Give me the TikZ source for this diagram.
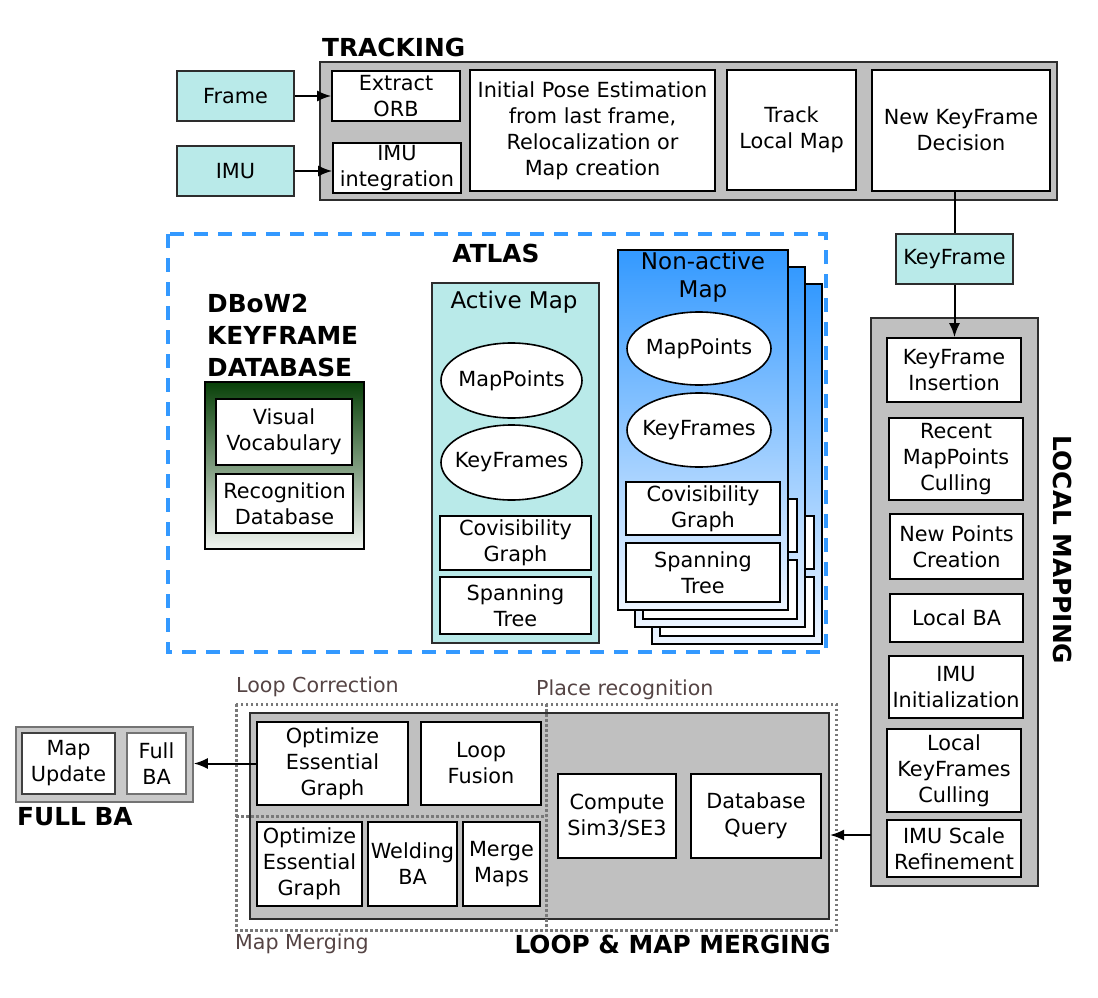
\documentclass[tikz,border=0pt]{standalone}
\usepackage{fontspec}
\setmainfont{DejaVu Sans}
\usetikzlibrary{calc}
\usetikzlibrary{shapes,arrows,arrows.meta}

\definecolor{kfcyan}{RGB}{185,234,233}
\definecolor{boxgray}{RGB}{192,192,192}
\definecolor{edgegray}{RGB}{45,45,45}
\definecolor{atlasblue}{RGB}{51,153,255}
\definecolor{dotgray}{RGB}{120,120,120}
\definecolor{labelbrown}{RGB}{85,68,68}
\definecolor{dbgreen}{RGB}{8,64,8}
\definecolor{dbpale}{RGB}{242,246,242}
\definecolor{natop}{RGB}{51,153,255}
\definecolor{namid}{RGB}{150,200,255}
\definecolor{nabot}{RGB}{238,245,255}

\begin{document}
\begin{tikzpicture}[x=1pt,y=1pt,
    txt/.style={font=\fontsize{20.8}{26}\selectfont},
    wh/.style 2 args={minimum width=#1pt,minimum height=#2pt},
    box/.style={txt,draw=black,fill=white,line width=1.6pt,align=center,inner sep=1pt},
    inbox/.style={box,fill=kfcyan,draw=edgegray},
    panel/.style={draw=edgegray,fill=boxgray,line width=2pt,inner sep=0pt},
    mapbox/.style={draw=black,line width=2pt,inner sep=0pt},
    blob/.style={txt,ellipse,draw=black,fill=white,line width=1.6pt,inner xsep=-10pt,inner ysep=0pt},
    title/.style={font=\bfseries\fontsize{24.8}{32}\selectfont,inner sep=0pt},
    maptitle/.style={font=\fontsize{23}{28}\selectfont,align=center,inner sep=0pt},
    region/.style={font=\fontsize{20.6}{24}\selectfont,text=labelbrown,inner sep=0pt},
    zone/.style={draw=dotgray,line width=3pt,dash pattern=on 2.5pt off 2.5pt},
    flow/.style={line width=2pt,-{Latex[length=14pt,width=11pt]}}]
    \useasboundingbox (0,0) rectangle (1098,-998);

    % tracking
    \node[panel,wh={737}{138}] (tracking) at (688.5,-131) {};
    \node[title,anchor=base west] (trtitle) at (322,-57) {TRACKING};
    \node[inbox,wh={117}{50}] (frame) at (235.5,-96) {Frame};
    \node[inbox,wh={117}{50}] (imu) at (235.5,-171) {IMU};
    \node[box,wh={128}{50}] (orb) at (396,-96) {Extract\\ORB};
    \node[box,wh={128}{50}] (imuint) at (397,-168) {IMU\\integration};
    \node[box,wh={245}{121}] (pose) at (592.5,-130.5) {Initial Pose Estimation\\from last frame,\\Relocalization or\\Map creation};
    \node[box,wh={129}{120}] (track) at (791.5,-130) {Track\\Local Map};
    \node[box,wh={178}{121}] (decision) at (961,-130.5) {New KeyFrame\\Decision};

    \draw[flow] (frame.east) -- (orb.west);
    \draw[flow] (imu.east) -- (imu.east -| imuint.west);

    % keyframe to local mapping
    \node[inbox,wh={117}{50}] (keyframe) at (954.5,-259) {KeyFrame};
    \node[panel,wh={167}{568}] (localmap) at (954.5,-602) {};
    \node[title,rotate=-90] (lmtitle) at (1063,-550) {LOCAL MAPPING};
    \node[box,wh={134}{64}] (kfins) at (954,-370) {KeyFrame\\Insertion};
    \node[box,wh={134}{82}] (recent) at (956,-459) {Recent\\MapPoints\\Culling};
    \node[box,wh={133}{65}] (newpts) at (956.5,-546.5) {New Points\\Creation};
    \node[box,wh={133}{48}] (localba) at (956.5,-618) {Local BA};
    \node[box,wh={134}{62}] (imuinit) at (956,-687) {IMU\\Initialization};
    \node[box,wh={134}{83}] (lkfcull) at (954,-770.5) {Local\\KeyFrames\\Culling};
    \node[box,wh={134}{57}] (imuscale) at (954,-848.5) {IMU Scale\\Refinement};

    \draw[line width=2pt] (decision.south -| keyframe.north) -- (keyframe.north);
    \draw[flow] (keyframe.south) -- (keyframe.south |- kfins.north);

    % atlas
    \draw[atlasblue,line width=4pt,dash pattern=on 14pt off 10pt] (168,-234) rectangle (826,-652);
    \node[title] (atlastitle) at (496,-253) {ATLAS};

    \node[title,align=left,anchor=west] (dbtitle) at (207,-335) {DBoW2\\KEYFRAME\\DATABASE};
    \node[mapbox,top color=dbgreen,bottom color=dbpale,wh={159}{167}] (dbow) at (284.5,-465.5) {};
    \node[box,wh={136}{66}] (vocab) at (284,-432) {Visual\\Vocabulary};
    \node[box,wh={137}{59}] (recog) at (284.5,-503.5) {Recognition\\Database};

    \node[mapbox,draw=edgegray,fill=kfcyan,wh={167}{360}] (active) at (515.5,-463) {};
    \node[maptitle] (amtitle) at (514,-302) {Active Map};
    \node[blob,wh={141}{75}] (ampts) at (511.5,-380.5) {MapPoints};
    \node[blob,wh={141}{75}] (amkfs) at (511.5,-462.5) {KeyFrames};
    \node[box,wh={151}{54}] (amcov) at (515.5,-543) {Covisibility\\Graph};
    \node[box,wh={151}{57}] (amspan) at (515.5,-605.5) {Spanning\\Tree};

    \foreach \k in {2,1}{
      \begin{scope}[shift={(17*\k,-17*\k)}]
        \node[mapbox,top color=natop,middle color=namid,bottom color=nabot,wh={170}{360}] (nam\k) at (703,-430) {};
        \node[box,wh={154}{53}] (namcov\k) at (703,-508.5) {};
        \node[box,wh={154}{59}] (namspan\k) at (703,-572.5) {};
      \end{scope}
    }
    \node[mapbox,top color=natop,middle color=namid,bottom color=nabot,wh={170}{360}] (nonactive) at (703,-430) {};
    \node[maptitle] (natitle) at (703,-277) {Non-active\\Map};
    \node[blob,wh={144}{73}] (napts) at (699,-348.5) {MapPoints};
    \node[blob,wh={144}{74}] (nakfs) at (699,-430) {KeyFrames};
    \node[box,wh={154}{53}] (nacov) at (703,-508.5) {Covisibility\\Graph};
    \node[box,wh={154}{59}] (naspan) at (703,-572.5) {Spanning\\Tree};

    % loop and map merging
    \node[panel,wh={579}{206}] (loop) at (539.5,-816) {};
    \draw[zone] (236,-704) rectangle (836,-930);
    \draw[zone] (546,-704) -- (546,-930);
    \draw[zone] (236,-816) -- (546,-816);
    \node[region,anchor=west] (lctitle) at (236,-687) {Loop Correction};
    \node[region,anchor=west] (prtitle) at (536,-690) {Place recognition};
    \node[region,anchor=west] (mmtitle) at (235,-944) {Map Merging};
    \node[title,anchor=east] (lmmtitle) at (831,-944) {LOOP \& MAP MERGING};
    \node[box,wh={151}{83}] (opt1) at (332.5,-763.5) {Optimize\\Essential\\Graph};
    \node[box,wh={120}{83}] (fusion) at (481,-763.5) {Loop\\Fusion};
    \node[box,wh={105}{84}] (opt2) at (309.5,-864) {Optimize\\Essential\\Graph};
    \node[box,wh={89}{84}] (welding) at (412.5,-864) {Welding\\BA};
    \node[box,wh={77}{84}] (merge) at (501.5,-864) {Merge\\Maps};
    \node[box,wh={118}{84}] (sim3) at (617,-816) {Compute\\Sim3/SE3};
    \node[box,wh={130}{84}] (query) at (756,-816) {Database\\Query};

    \coordinate (lmout) at (871,-835);
    \draw[flow] (lmout) -- (lmout -| loop.east);

    % full BA
    \node[panel,fill=black!21,draw=black!55,line width=1.5pt,wh={177}{75}] (fullba) at (104.5,-764.5) {};
    \node[box,draw=black!75,wh={93}{61}] (mapupd) at (68.5,-763.5) {Map\\Update};
    \node[box,draw=black!55,line width=1.2pt,wh={59}{61}] (fullbabox) at (156.5,-763.5) {Full\\BA};
    \node[title,anchor=base west] (fbtitle) at (17,-825) {FULL BA};
    \draw[flow] (opt1.west) -- (opt1.west -| fullba.east);
\end{tikzpicture}
\end{document}
